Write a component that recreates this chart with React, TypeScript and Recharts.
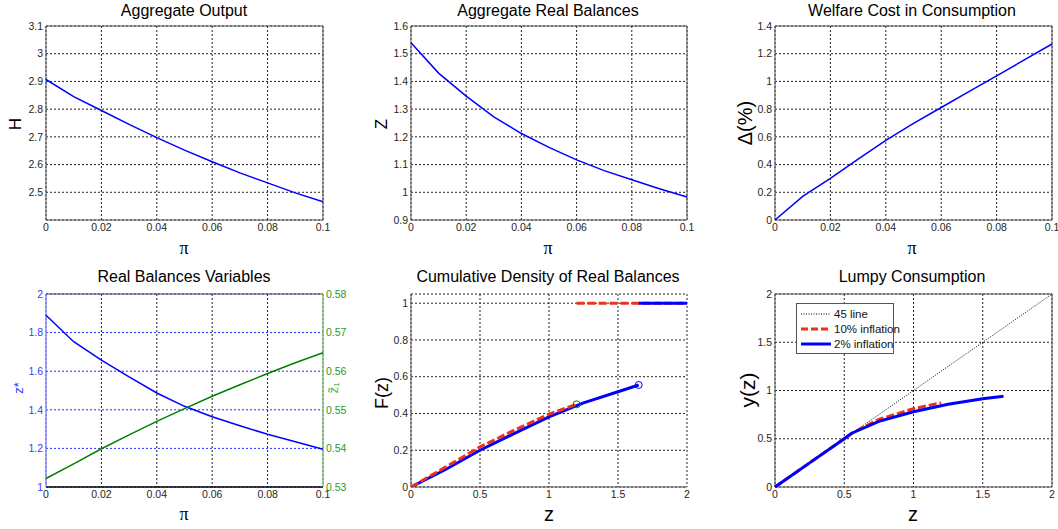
import React from "react";
import {
  LineChart,
  Line,
  XAxis,
  YAxis,
  CartesianGrid,
  ReferenceArea,
  ReferenceLine,
  ReferenceDot,
} from "recharts";

// inflation grid used by the four pi panels
const piGrid = [0, 0.01, 0.02, 0.03, 0.04, 0.05, 0.06, 0.07, 0.08, 0.09, 0.1];
const outputH = [2.907, 2.845, 2.795, 2.745, 2.697, 2.652, 2.61, 2.57, 2.534, 2.498, 2.466];
const balancesZ = [1.54, 1.43, 1.347, 1.272, 1.212, 1.162, 1.117, 1.078, 1.045, 1.013, 0.983];
const welfareDelta = [0, 0.17, 0.3, 0.44, 0.575, 0.697, 0.812, 0.927, 1.04, 1.155, 1.27];
const zStar = [1.89, 1.753, 1.657, 1.571, 1.487, 1.418, 1.364, 1.317, 1.273, 1.234, 1.196];
const zOne = [0.5322, 0.536, 0.5399, 0.5435, 0.547, 0.5503, 0.5535, 0.5565, 0.5594, 0.5622, 0.5648];

// CDF of real balances, 2% and 10% inflation
const cdfZ2 = [0, 0.25, 0.5, 0.75, 1, 1.25, 1.5, 1.65];
const cdfF2 = [0, 0.095, 0.2, 0.292, 0.382, 0.458, 0.518, 0.555];
const cdfZ10 = [0, 0.25, 0.5, 0.75, 1, 1.2];
const cdfF10 = [0, 0.108, 0.218, 0.31, 0.396, 0.45];
const massZ2 = [1.65, 2];
const massZ10 = [1.2, 2];
const massF = [1, 1];

// lumpy consumption y(z)
const lumpyZ2 = [0, 0.25, 0.5, 0.55, 0.75, 1, 1.25, 1.5, 1.65];
const lumpyY2 = [0, 0.25, 0.5, 0.555, 0.68, 0.78, 0.858, 0.915, 0.94];
const lumpyZ10 = [0, 0.25, 0.5, 0.57, 0.75, 1, 1.2];
const lumpyY10 = [0, 0.25, 0.5, 0.57, 0.7, 0.812, 0.872];
const diagZ = [0, 2];

const piTicks = [0, 0.02, 0.04, 0.06, 0.08, 0.1];
const hTicks = [2.5, 2.6, 2.7, 2.8, 2.9, 3, 3.1];
const zTicks = [0.9, 1, 1.1, 1.2, 1.3, 1.4, 1.5, 1.6];
const deltaTicks = [0, 0.2, 0.4, 0.6, 0.8, 1, 1.2, 1.4];
const zStarTicks = [1, 1.2, 1.4, 1.6, 1.8, 2];
const zOneTicks = [0.53, 0.54, 0.55, 0.56, 0.57, 0.58];
const cdfTicks = [0, 0.2, 0.4, 0.6, 0.8, 1];
const twoTicks = [0, 0.5, 1, 1.5, 2];

const legendItems = [
  { label: "45 line", color: "#000", width: 1, dash: "1 1.5" },
  { label: "10% inflation", color: "#f03018", width: 3, dash: "7 3" },
  { label: "2% inflation", color: "#0000ff", width: 3, dash: "" },
];

const zip = (xs: number[], ys: number[]) => xs.map((x, i) => ({ x, y: ys[i] }));
const last = (a: number[]) => a[a.length - 1];

const FONT = "'Liberation Sans', Arial, sans-serif";
const tick = { fontSize: 10.5, fill: "#262626", fontFamily: FONT };
const gridProps = { stroke: "#222", strokeDasharray: "2 2" };
const BLUE = "#0000ff";
const RED = "#f03018";

function Txt(props: { x: number; y: number; size: number; rotate?: boolean; color?: string; serif?: boolean; children: React.ReactNode }) {
  const { x, y, size, rotate, color, serif, children } = props;
  return (
    <div
      style={{
        position: "absolute",
        left: x,
        top: y,
        transform: `translate(-50%, -50%)${rotate ? " rotate(-90deg)" : ""}`,
        fontSize: size,
        color: color || "#000",
        fontFamily: serif ? "'Liberation Serif', 'DejaVu Serif', serif" : FONT,
        whiteSpace: "nowrap",
        lineHeight: 1,
      }}
    >
      {children}
    </div>
  );
}

function Cell(props: { left: number; top: number; children: React.ReactNode }) {
  return <div style={{ position: "absolute", left: props.left, top: props.top }}>{props.children}</div>;
}

export default function App() {
  return (
    <div style={{ position: "absolute", left: 0, top: 0, width: 1058, height: 529, background: "#fff", fontFamily: FONT, overflow: "hidden" }}>
      {/* top row */}
      <Cell left={0} top={0}>
        <LineChart width={350} height={260} data={zip(piGrid, outputH)} margin={{ top: 26, right: 27, bottom: 0, left: 0 }}>
          <CartesianGrid {...gridProps} />
          <XAxis dataKey="x" type="number" domain={[0, 0.1]} ticks={piTicks} interval={0} tick={tick} tickLine={false} axisLine={false} tickSize={0} tickMargin={4} height={40} />
          <YAxis type="number" domain={[2.4, 3.1]} ticks={hTicks} interval={0} tick={tick} tickLine={false} axisLine={false} tickSize={0} tickMargin={3} width={46} />
          <ReferenceArea x1={0} x2={0.1} y1={2.4} y2={3.1} fill="none" stroke="#555" />
          <Line dataKey="y" stroke={BLUE} strokeWidth={1.5} dot={false} activeDot={false} isAnimationActive={false} />
        </LineChart>
      </Cell>
      <Cell left={350} top={0}>
        <LineChart width={350} height={260} data={zip(piGrid, balancesZ)} margin={{ top: 26, right: 13, bottom: 0, left: 0 }}>
          <CartesianGrid {...gridProps} />
          <XAxis dataKey="x" type="number" domain={[0, 0.1]} ticks={piTicks} interval={0} tick={tick} tickLine={false} axisLine={false} tickSize={0} tickMargin={4} height={40} />
          <YAxis type="number" domain={[0.9, 1.6]} ticks={zTicks} interval={0} tick={tick} tickLine={false} axisLine={false} tickSize={0} tickMargin={3} width={61} />
          <ReferenceArea x1={0} x2={0.1} y1={0.9} y2={1.6} fill="none" stroke="#555" />
          <Line dataKey="y" stroke={BLUE} strokeWidth={1.5} dot={false} activeDot={false} isAnimationActive={false} />
        </LineChart>
      </Cell>
      <Cell left={700} top={0}>
        <LineChart width={358} height={260} data={zip(piGrid, welfareDelta)} margin={{ top: 26, right: 6, bottom: 0, left: 0 }}>
          <CartesianGrid {...gridProps} />
          <XAxis dataKey="x" type="number" domain={[0, 0.1]} ticks={piTicks} interval={0} tick={tick} tickLine={false} axisLine={false} tickSize={0} tickMargin={4} height={40} />
          <YAxis type="number" domain={[0, 1.4]} ticks={deltaTicks} interval={0} tick={tick} tickLine={false} axisLine={false} tickSize={0} tickMargin={3} width={75} />
          <ReferenceArea x1={0} x2={0.1} y1={0} y2={1.4} fill="none" stroke="#555" />
          <Line dataKey="y" stroke={BLUE} strokeWidth={1.5} dot={false} activeDot={false} isAnimationActive={false} />
        </LineChart>
      </Cell>

      {/* bottom row */}
      <Cell left={0} top={260}>
        <LineChart
          width={350}
          height={269}
          data={piGrid.map((p, i) => ({ x: p, zs: zStar[i], z1: zOne[i] }))}
          margin={{ top: 34, right: 0, bottom: 0, left: 0 }}
        >
          <CartesianGrid yAxisId="left" stroke="#2a2aff" strokeDasharray="2 2" vertical={false} />
          <CartesianGrid yAxisId="left" {...gridProps} horizontal={false} />
          <XAxis dataKey="x" type="number" domain={[0, 0.1]} ticks={piTicks} interval={0} tick={tick} tickLine={false} axisLine={false} tickSize={0} tickMargin={4} height={42} />
          <YAxis yAxisId="left" type="number" domain={[1, 2]} ticks={zStarTicks} interval={0} tick={{ ...tick, fill: "#3a3aff" }} tickLine={false} axisLine={false} tickSize={0} tickMargin={3} width={46} />
          <YAxis yAxisId="right" orientation="right" type="number" domain={[0.53, 0.58]} ticks={zOneTicks} interval={0} tick={{ ...tick, fill: "#2a9a2a" }} tickLine={false} axisLine={false} tickSize={0} tickMargin={3} width={27} />
          <ReferenceLine yAxisId="left" y={2} stroke="#444" />
          <ReferenceLine yAxisId="left" y={1} stroke="#000" strokeWidth={1.5} />
          <ReferenceLine yAxisId="left" x={0} stroke="#8a8aff" strokeWidth={1.5} />
          <ReferenceLine yAxisId="left" x={0.1} stroke="#80c080" strokeWidth={1.5} />
          <Line yAxisId="left" dataKey="zs" stroke={BLUE} strokeWidth={1.5} dot={false} activeDot={false} isAnimationActive={false} />
          <Line yAxisId="right" dataKey="z1" stroke="#008000" strokeWidth={1.5} dot={false} activeDot={false} isAnimationActive={false} />
        </LineChart>
      </Cell>
      <Cell left={350} top={260}>
        <LineChart width={350} height={269} margin={{ top: 34, right: 13, bottom: 0, left: 0 }}>
          <CartesianGrid {...gridProps} />
          <XAxis dataKey="x" type="number" domain={[0, 2]} ticks={twoTicks} interval={0} tick={tick} tickLine={false} axisLine={false} tickSize={0} tickMargin={4} height={42} allowDuplicatedCategory={false} />
          <YAxis type="number" domain={[0, 1.05]} ticks={cdfTicks} interval={0} tick={tick} tickLine={false} axisLine={false} tickSize={0} tickMargin={3} width={61} allowDataOverflow />
          <ReferenceLine x={0} stroke="#555" />
          <ReferenceLine y={0} stroke="#555" />
          <Line data={zip(massZ10, massF)} dataKey="y" stroke={RED} strokeWidth={3} strokeDasharray="8 3" dot={false} activeDot={false} isAnimationActive={false} />
          <Line data={zip(massZ2, massF)} dataKey="y" stroke={BLUE} strokeWidth={3} dot={false} activeDot={false} isAnimationActive={false} />
          <Line data={zip(cdfZ2, cdfF2)} dataKey="y" stroke={BLUE} strokeWidth={3} dot={false} activeDot={false} isAnimationActive={false} />
          <Line data={zip(cdfZ10, cdfF10)} dataKey="y" stroke={RED} strokeWidth={3} strokeDasharray="8 3" dot={false} activeDot={false} isAnimationActive={false} />
          <ReferenceDot x={last(cdfZ10)} y={last(cdfF10)} r={3.5} fill="none" stroke="#008000" />
          <ReferenceDot x={last(cdfZ2)} y={last(cdfF2)} r={3.5} fill="none" stroke={BLUE} />
        </LineChart>
      </Cell>
      <Cell left={700} top={260}>
        <LineChart width={358} height={269} margin={{ top: 34, right: 6, bottom: 0, left: 0 }}>
          <CartesianGrid {...gridProps} />
          <XAxis dataKey="x" type="number" domain={[0, 2]} ticks={twoTicks} interval={0} tick={tick} tickLine={false} axisLine={false} tickSize={0} tickMargin={4} height={42} allowDuplicatedCategory={false} />
          <YAxis type="number" domain={[0, 2]} ticks={twoTicks} interval={0} tick={tick} tickLine={false} axisLine={false} tickSize={0} tickMargin={3} width={75} />
          <ReferenceArea x1={0} x2={2} y1={0} y2={2} fill="none" stroke="#555" />
          <Line data={zip(diagZ, diagZ)} dataKey="y" stroke="#000" strokeWidth={1} strokeDasharray="1 1.5" dot={false} activeDot={false} isAnimationActive={false} />
          <Line data={zip(lumpyZ10, lumpyY10)} dataKey="y" stroke={RED} strokeWidth={3} strokeDasharray="8 3" dot={false} activeDot={false} isAnimationActive={false} />
          <Line data={zip(lumpyZ2, lumpyY2)} dataKey="y" stroke={BLUE} strokeWidth={3} dot={false} activeDot={false} isAnimationActive={false} />
        </LineChart>
      </Cell>

      {/* legend of the lumpy consumption panel */}
      <div style={{ position: "absolute", left: 796, top: 303, width: 96, height: 49, border: "1px solid #555", background: "#fff" }}>
        {legendItems.map((it, i) => (
          <div key={it.label} style={{ position: "absolute", left: 4, top: 3 + i * 15, height: 14, display: "flex", alignItems: "center", fontSize: 11.5, color: "#111", whiteSpace: "nowrap" }}>
            <svg width={30} height={6} style={{ marginRight: 3 }}>
              <line x1={0} y1={3} x2={30} y2={3} stroke={it.color} strokeWidth={it.width} strokeDasharray={it.dash || undefined} />
            </svg>
            {it.label}
          </div>
        ))}
      </div>

      {/* titles */}
      <Txt x={184} y={11} size={16}>Aggregate Output</Txt>
      <Txt x={548} y={11} size={16}>Aggregate Real Balances</Txt>
      <Txt x={912} y={11} size={16}>Welfare Cost in Consumption</Txt>
      <Txt x={184} y={277} size={16}>Real Balances Variables</Txt>
      <Txt x={548} y={277} size={16}>Cumulative Density of Real Balances</Txt>
      <Txt x={912} y={277} size={16}>Lumpy Consumption</Txt>

      {/* axis labels */}
      <Txt x={184} y={248} size={18} serif>π</Txt>
      <Txt x={548} y={248} size={18} serif>π</Txt>
      <Txt x={912} y={248} size={18} serif>π</Txt>
      <Txt x={184} y={514} size={18} serif>π</Txt>
      <Txt x={549} y={514} size={20}>z</Txt>
      <Txt x={913} y={514} size={20}>z</Txt>

      <Txt x={15} y={124} size={17} rotate>H</Txt>
      <Txt x={381} y={124} size={17} rotate>Z</Txt>
      <Txt x={745} y={123} size={20} rotate>Δ(%)</Txt>
      <Txt x={18} y={388} size={13} rotate color="#3a3aff">z*</Txt>
      <Txt x={333} y={388} size={13} rotate color="#50b050">z̃₁</Txt>
      <Txt x={382} y={393} size={18} rotate>F(z)</Txt>
      <Txt x={747} y={390} size={21} rotate>y(z)</Txt>
    </div>
  );
}
